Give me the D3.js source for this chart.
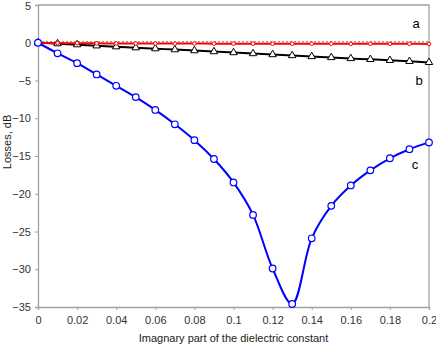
<!DOCTYPE html>
<html>
<head>
<meta charset="utf-8">
<script src="https://cdn.jsdelivr.net/npm/d3@7"></script>
<style>
  body { margin: 0; background: #fff; }
  text { font-family: "Liberation Sans", Arial, sans-serif; }
</style>
</head>
<body>
<script>
// set up SVG
var w = 436;
var h = 345;

// plot area edges
var pdL = 38;
var pdR = 7;
var pdT = 5;
var pdB = 38;

// data
var xVals = [0, 0.01, 0.02, 0.03, 0.04, 0.05, 0.06, 0.07, 0.08, 0.09, 0.1,
             0.11, 0.12, 0.13, 0.14, 0.15, 0.16, 0.17, 0.18, 0.19, 0.2];
var seriesA = [0, -0.04, -0.06, -0.08, -0.09, -0.1, -0.1, -0.11, -0.11, -0.12, -0.12,
               -0.12, -0.13, -0.13, -0.13, -0.13, -0.14, -0.14, -0.14, -0.14, -0.15];
var seriesB = [0, -0.12, -0.25, -0.4, -0.52, -0.65, -0.78, -0.91, -1.04, -1.17, -1.3,
               -1.43, -1.56, -1.69, -1.82, -1.95, -2.08, -2.2, -2.33, -2.46, -2.6];
var seriesC = [0, -1.4, -2.7, -4.2, -5.7, -7.2, -8.9, -10.8, -12.9, -15.4, -18.5,
               -22.8, -29.9, -34.6, -25.9, -21.6, -18.9, -16.9, -15.3, -14.1, -13.2];
var xTicks = [0, 0.02, 0.04, 0.06, 0.08, 0.1, 0.12, 0.14, 0.16, 0.18, 0.2];
var yTicks = [5, 0, -5, -10, -15, -20, -25, -30, -35];

var svg = d3.select("body")
            .append("svg")
            .attr("width", w)
            .attr("height", h);

var scaleX = d3.scaleLinear()
               .domain([0, 0.2])
               .range([pdL, w - pdR]);
var scaleY = d3.scaleLinear()
               .domain([-35, 5])
               .range([h - pdB, pdT]);

var axisCol = "#a0a0a0";

// plot border (top & right)
svg.append("path")
   .attr("d", "M" + pdL + "," + pdT + "H" + (w - pdR) + "V" + (h - pdB))
   .attr("fill", "none")
   .attr("stroke", axisCol)
   .attr("stroke-width", 1.3);

// axes
var axisX = d3.axisBottom(scaleX)
              .tickValues(xTicks)
              .tickSize(3)
              .tickPadding(6)
              .tickFormat(function(d) { return d3.format("")(d); });
var axisY = d3.axisLeft(scaleY)
              .tickValues(yTicks)
              .tickSize(3)
              .tickPadding(4);

var gx = svg.append("g")
   .attr("transform", "translate(0," + (h - pdB) + ")")
   .call(axisX);
var gy = svg.append("g")
   .attr("transform", "translate(" + pdL + ",0)")
   .call(axisY);

[gx, gy].forEach(function(g) {
  g.select(".domain").attr("stroke", axisCol).attr("stroke-width", 1.3);
  g.selectAll(".tick line").attr("stroke", axisCol);
  g.selectAll(".tick text")
   .attr("fill", "#333")
   .style("font-size", "11px")
   .style("font-family", "Liberation Sans, Arial, sans-serif");
});
// keep the top label inside the window
gy.selectAll(".tick text")
  .filter(function(d) { return d === 5; })
  .attr("dy", "0.45em");

// dotted zero line
svg.append("line")
   .attr("x1", scaleX(0))
   .attr("x2", scaleX(0.2))
   .attr("y1", scaleY(0) - 1)
   .attr("y2", scaleY(0) - 1)
   .attr("stroke", "#999")
   .attr("stroke-width", 1.5)
   .attr("stroke-dasharray", "2,2");

var line = d3.line()
             .x(function(d) { return scaleX(d[0]); })
             .y(function(d) { return scaleY(d[1]); })
             .curve(d3.curveCatmullRom.alpha(0.5));

var zip = function(arr) {
  return xVals.map(function(x, i) { return [x, arr[i]]; });
};

// series b (black triangles)
svg.append("path")
   .datum(zip(seriesB))
   .attr("d", line)
   .attr("fill", "none")
   .attr("stroke", "black")
   .attr("stroke-width", 2);
svg.selectAll(".triB")
   .data(zip(seriesB))
   .enter()
   .append("path")
   .attr("class", "triB")
   .attr("transform", function(d) {
     return "translate(" + scaleX(d[0]) + "," + scaleY(d[1]) + ")";
   })
   .attr("d", d3.symbol().type(d3.symbolTriangle).size(24))
   .attr("fill", "white")
   .attr("stroke", "black")
   .attr("stroke-width", 1);

// series a (red circles)
svg.append("path")
   .datum(zip(seriesA))
   .attr("d", line)
   .attr("fill", "none")
   .attr("stroke", "#ff0000")
   .attr("stroke-width", 2);
svg.selectAll(".dotA")
   .data(zip(seriesA))
   .enter()
   .append("circle")
   .attr("class", "dotA")
   .attr("cx", function(d) { return scaleX(d[0]); })
   .attr("cy", function(d) { return scaleY(d[1]); })
   .attr("r", 1.8)
   .attr("fill", "white")
   .attr("stroke", "#ff0000")
   .attr("stroke-width", 1);

// series c (blue circles)
svg.append("path")
   .datum(zip(seriesC))
   .attr("d", line)
   .attr("fill", "none")
   .attr("stroke", "#0000ff")
   .attr("stroke-width", 2);
svg.selectAll(".dotC")
   .data(zip(seriesC))
   .enter()
   .append("circle")
   .attr("class", "dotC")
   .attr("cx", function(d) { return scaleX(d[0]); })
   .attr("cy", function(d) { return scaleY(d[1]); })
   .attr("r", 3.3)
   .attr("fill", "white")
   .attr("stroke", "#0000ff")
   .attr("stroke-width", 1.2);

// series labels
var labels = [["a", 416, 28], ["b", 419, 85], ["c", 415, 169]];
svg.selectAll(".lab")
   .data(labels)
   .enter()
   .append("text")
   .attr("class", "lab")
   .attr("x", function(d) { return d[1]; })
   .attr("y", function(d) { return d[2]; })
   .attr("text-anchor", "middle")
   .style("font-size", "13px")
   .text(function(d) { return d[0]; });

// axis titles
svg.append("text")
   .attr("x", (pdL + w - pdR) / 2)
   .attr("y", 342)
   .attr("text-anchor", "middle")
   .style("font-size", "11px")
   .attr("fill", "#222")
   .text("Imagnary part of the dielectric constant");
svg.append("text")
   .attr("transform", "translate(11,142) rotate(-90)")
   .attr("text-anchor", "middle")
   .style("font-size", "11px")
   .attr("fill", "#222")
   .text("Losses, dB");
</script>
</body>
</html>
